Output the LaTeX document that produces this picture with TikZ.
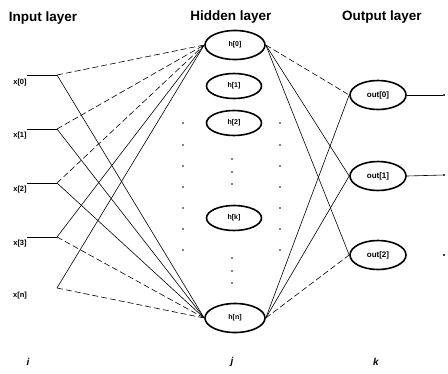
\documentclass[tikz,border=0pt]{standalone}
\usepackage{fontspec}
\setmainfont{Liberation Sans}
\usetikzlibrary{shapes.geometric}
\begin{document}
\begin{tikzpicture}[x=1pt,y=-1pt,
  title/.style={font=\bfseries\fontsize{13.5}{15}\selectfont},
  unit/.style={draw, ellipse, line width=1.6pt, inner sep=0pt,
    minimum width=55pt, minimum height=25pt, font=\bfseries\fontsize{7}{8}\selectfont},
  bigunit/.style={unit, minimum width=60pt, minimum height=29pt},
  outunit/.style={unit, minimum width=56pt, minimum height=29pt, font=\bfseries\fontsize{8}{9}\selectfont},
  inlab/.style={font=\bfseries\fontsize{7.5}{9}\selectfont},
  link/.style={line width=0.6pt},
  dlink/.style={link, dash pattern=on 6pt off 3pt},
  dot/.style={circle, fill, inner sep=0pt, minimum size=2.2pt},
  idx/.style={font=\bfseries\itshape\fontsize{10}{12}\selectfont}]
\useasboundingbox (0,0) rectangle (448,373);

% layer titles
\node[title] (tin)  at (43,18)  {Input layer};
\node[title] (thid) at (231,17) {Hidden layer};
\node[title] (tout) at (382,17) {Output layer};

% input labels, stubs and junctions
\node[inlab] (x0) at (20,83)  {x[0]};
\node[inlab] (x1) at (20,136) {x[1]};
\node[inlab] (x2) at (20,190) {x[2]};
\node[inlab] (x3) at (20,244) {x[3]};
\node[inlab] (xn) at (20,296) {x[n]};
\foreach \i/\y in {0/75,1/129,2/183,3/237} {
  \coordinate (s\i) at (27,\y);
  \coordinate (j\i) at (57,\y);
  \draw[link] (s\i) -- (j\i);
}
\coordinate (jn) at (57,288);

% hidden units
\node[bigunit] (h0) at (235,45)  {h[0]};
\node[unit]    (h1) at (234,86)  {h[1]};
\node[unit]    (h2) at (234,123) {h[2]};
\node[unit]    (hk) at (234,218) {h[k]};
\node[bigunit] (hn) at (235,318) {h[n]};

% output units
\node[outunit] (o0) at (378,95)  {out[0]};
\node[outunit] (o1) at (378,176) {out[1]};
\node[outunit] (o2) at (378,255) {out[2]};

% input -> hidden
\draw[dlink] (j0) -- (h0.west);
\draw[dlink] (j1) -- (h0.west);
\draw[dlink] (j2) -- (h0.west);
\draw[link]  (j3) -- (h0.west);
\draw[link]  (jn) -- (h0.west);
\draw[link]  (j0) -- (hn.west);
\draw[link]  (j1) -- (hn.west);
\draw[link]  (j2) -- (hn.west);
\draw[dlink] (j3) -- (hn.west);
\draw[dlink] (jn) -- (hn.west);

% hidden -> output
\draw[dlink] (h0.east) -- (o0.west);
\draw[link]  (h0.east) -- (o1.west);
\draw[link]  (h0.east) -- (o2.west);
\draw[link]  (hn.east) -- (o0.west);
\draw[link]  (hn.east) -- (o1.west);
\draw[dlink] (hn.east) -- (o2.west);

% outputs
\node[dot] (e0) at (444,95)  {};
\node[dot] (e1) at (444,175) {};
\node[dot] (e2) at (444,255) {};
\draw[link] (o0.east) -- (e0);
\draw[link] (o1.east) -- (e1);

% ellipsis dots
\foreach \y [count=\n] in {123,145,166,187,208,229,250} {
  \node[dot, minimum size=1.8pt] (dl\n) at (183,\y) {};
  \node[dot, minimum size=1.8pt] (dr\n) at (280,\y) {};
}
\foreach \y [count=\n] in {159,172,184,258,271,283} {
  \node[dot, minimum size=1.8pt] (dc\n) at (232,\y) {};
}

% layer indices
\node[idx] (li) at (28,362)  {i};
\node[idx] (lj) at (232,362) {j};
\node[idx] (lk) at (376,362) {k};
\end{tikzpicture}
\end{document}
